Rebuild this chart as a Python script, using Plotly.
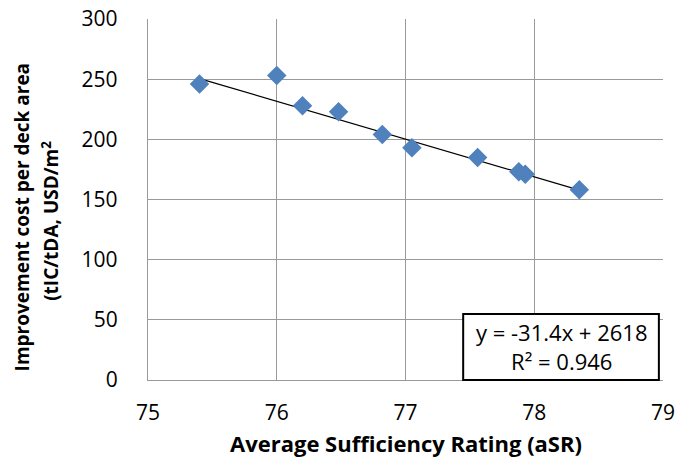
import plotly.graph_objects as go

# Average sufficiency rating vs improvement cost per deck area
asr = [75.40, 76.00, 76.20, 76.48, 76.82, 77.05, 77.56, 77.88, 77.93, 78.35]
cost = [246, 253, 228, 223, 204, 193, 185, 173, 171, 158]

# Linear trendline coefficients (y = slope*x + intercept)
slope = -31.4
intercept = 2618
r2 = 0.946

x_ticks = [75, 76, 77, 78, 79]
y_ticks = [0, 50, 100, 150, 200, 250, 300]

x_title = "<b>Average Sufficiency Rating (aSR)</b>"
y_title_lines = ["<b>Improvement cost per deck area</b>",
                 "<b>(tIC/tDA, USD/m<sup>2</sup></b>"]

FONT = "Open Sans"
GRID = "#9a9a9a"

trend_x = [min(asr), max(asr)]
trend_y = [slope * v + intercept for v in trend_x]

fig = go.Figure()
fig.add_trace(go.Scatter(
    x=trend_x, y=trend_y, mode="lines",
    line=dict(color="#000000", width=1.2),
    hoverinfo="skip", showlegend=False,
))
fig.add_trace(go.Scatter(
    x=asr, y=cost, mode="markers",
    marker=dict(symbol="diamond", size=15, color="#4f81bd",
                line=dict(width=0)),
    showlegend=False,
))

# Equation box in the lower-right corner of the plot area
fig.add_shape(
    type="rect", xref="paper", yref="paper",
    x0=0.612, x1=0.992, y0=0.0, y1=0.183,
    line=dict(color="#000000", width=2), fillcolor="#ffffff", layer="above",
)
fig.add_annotation(
    xref="paper", yref="paper", x=0.802, y=0.0915,
    xanchor="center", yanchor="middle",
    text=f"y = {slope}x + {intercept}<br>R² = {r2}",
    showarrow=False, align="center",
    font=dict(family=FONT, size=22, color="#000000"),
)

# Axis titles placed as annotations to control line spacing
fig.add_annotation(
    xref="paper", yref="paper", x=0.5, y=-0.175,
    xanchor="center", yanchor="middle", showarrow=False,
    text=x_title, font=dict(family=FONT, size=22, color="#000000"),
)
for px, py, line in zip([-0.245, -0.189], [0.45, 0.44], y_title_lines):
    fig.add_annotation(
        xref="paper", yref="paper", x=px, y=py,
        xanchor="center", yanchor="middle", showarrow=False,
        textangle=-90, text=line,
        font=dict(family=FONT, size=19, color="#000000"),
    )

fig.update_layout(
    width=675, height=458,
    margin=dict(l=148, r=12, t=19, b=78, autoexpand=False),
    paper_bgcolor="#ffffff", plot_bgcolor="#ffffff",
    font=dict(family=FONT, size=21, color="#000000"),
    xaxis=dict(
        range=[75, 79], tickvals=x_ticks, ticktext=[str(v) for v in x_ticks],
        showgrid=True, gridcolor=GRID, gridwidth=1.3,
        showline=True, linecolor=GRID, linewidth=1.3,
        zeroline=False, ticks="", ticklabelstandoff=14,
        ticklabeloverflow="allow", automargin=False,
    ),
    yaxis=dict(
        range=[0, 300], tickvals=y_ticks, ticktext=[str(v) for v in y_ticks],
        showgrid=True, gridcolor=GRID, gridwidth=1.3,
        showline=True, linecolor=GRID, linewidth=1.3,
        zeroline=False, ticks="", ticklabelstandoff=25,
        automargin=False,
    ),
)

fig.write_html("out.html")
